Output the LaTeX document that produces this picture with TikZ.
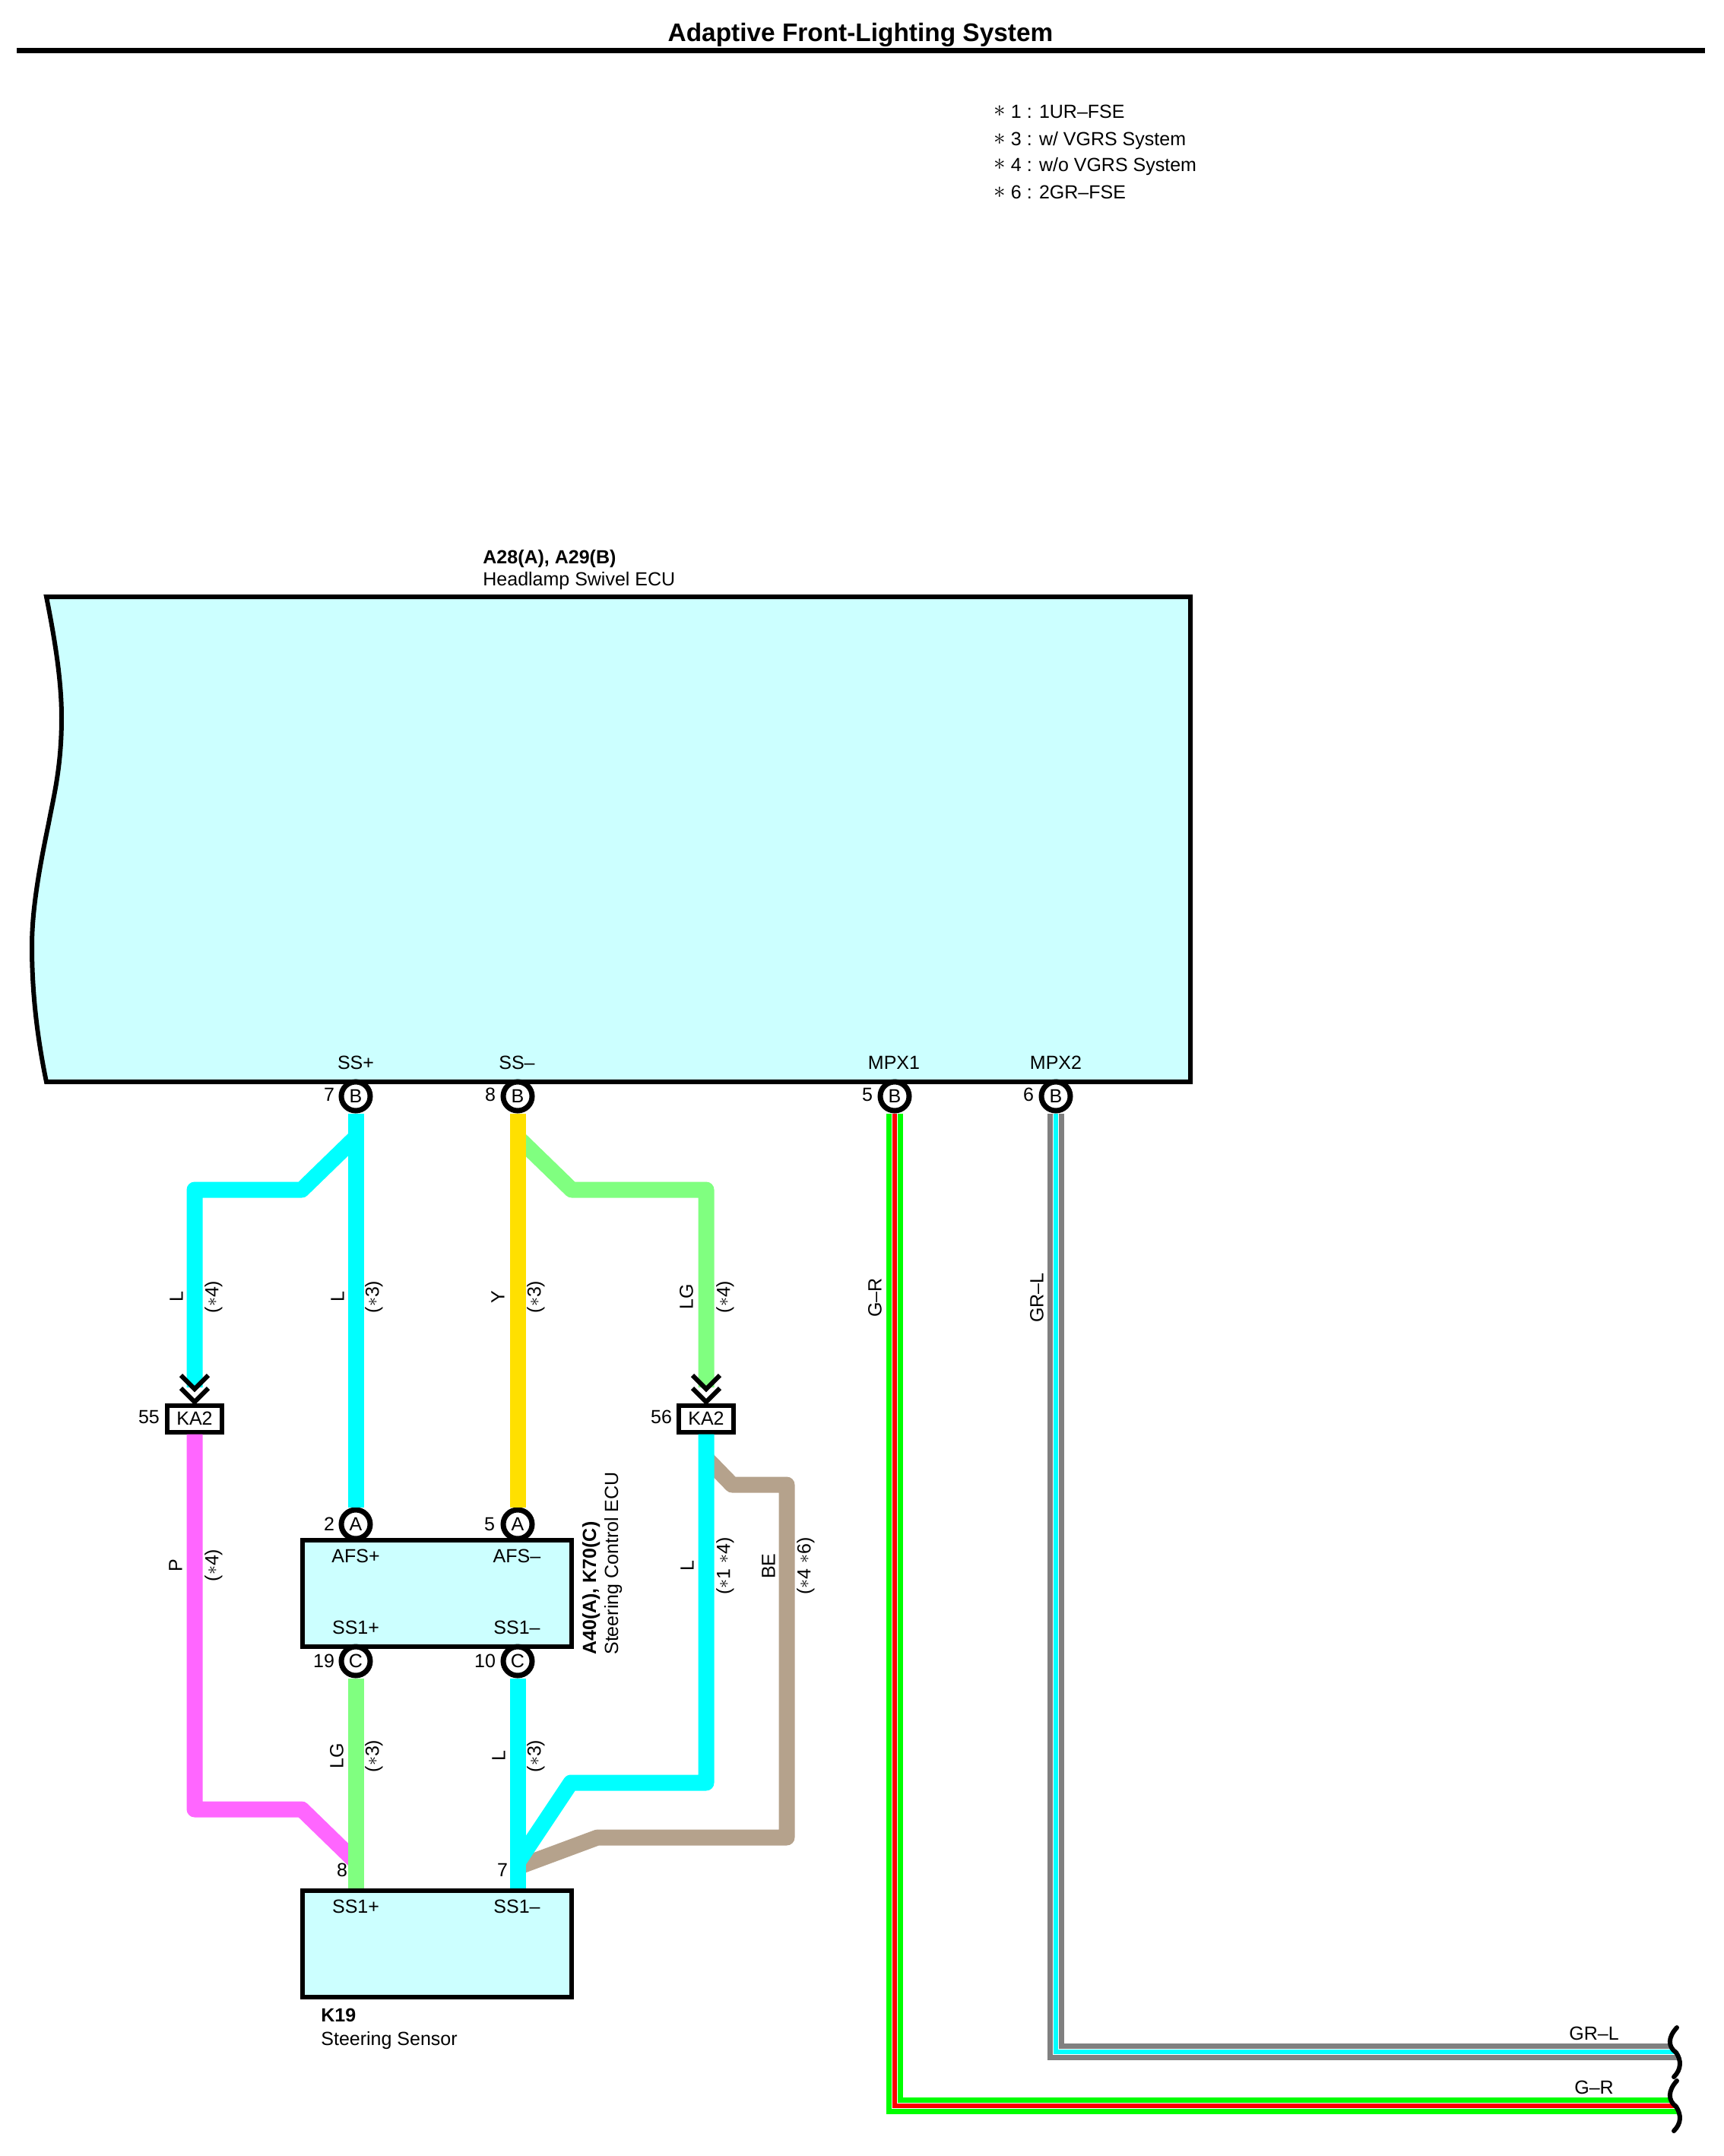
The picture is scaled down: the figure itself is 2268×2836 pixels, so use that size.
\documentclass[tikz,border=0pt]{standalone}
\usepackage{fontspec}
\setmainfont{Liberation Sans}
\newcommand{\lblfont}{\fontsize{12.5}{15}\selectfont}
\newcommand{\ttlfont}{\fontsize{16.7}{20}\selectfont\bfseries}
\newcommand{\wst}{\raisebox{1pt}{$\ast$}}
\newcommand{\lst}{\raisebox{1pt}{\scalebox{1.3}{$\ast$}}}
% two colours, with a thin white gap, for the striped wires
\newcommand{\stripewire}[3]{%
  \draw [line width=11pt,color=#1] #3;
  \draw [line width=4pt,color=white] #3;
  \draw [line width=3pt,color=#2] #3;}
\definecolor{boxfill}{RGB}{204,255,255}
\definecolor{wcyan}{RGB}{0,255,255}
\definecolor{wlime}{RGB}{128,255,128}
\definecolor{wpink}{RGB}{255,102,255}
\definecolor{wyell}{RGB}{255,224,0}
\definecolor{wbrown}{RGB}{181,162,140}
\definecolor{wgreen}{RGB}{0,255,0}
\definecolor{wred}{RGB}{255,0,0}
\definecolor{wgray}{RGB}{128,128,128}
\tikzset{
  every node/.style={font=\lblfont,inner sep=0pt},
  pin/.style={circle,draw,fill=white,line width=3.5pt,minimum size=19pt},
  unit/.style={rectangle,draw,fill=boxfill,line width=3pt,minimum width=177pt,minimum height=70pt},
  joint/.style={rectangle,draw,fill=white,line width=3pt,minimum width=36pt,minimum height=17.5pt},
  wire/.style={line width=10.5pt,line join=round},
  vlabel/.style={rotate=90},
  chevs/.pic={\draw [line width=3pt] (-18,37) -- (0,19) -- (18,37) (-18,20) -- (0,2) -- (18,20);},
}
\begin{document}
\begin{tikzpicture}[x=0.5pt,y=0.5pt,yscale=-1,xscale=1]
\useasboundingbox (0,0) rectangle (2268,2836);

%Title
\draw (1132,55) node (title) [anchor=base,font=\ttlfont] {Adaptive Front-Lighting System};
\draw [line width=3.5pt] (22,66.5) -- (2243,66.5);

%Legend
\draw (1307,156) node (note1) [anchor=base west] {\lst{} 1 : 1UR–FSE};
\draw (1307,192) node (note3) [anchor=base west] {\lst{} 3 : w/ VGRS System};
\draw (1307,226) node (note4) [anchor=base west] {\lst{} 4 : w/o VGRS System};
\draw (1307,262) node (note6) [anchor=base west] {\lst{} 6 : 2GR–FSE};

%Shape: ECU body
\draw [line width=3pt,fill=boxfill] (61,785) .. controls (74,850) and (81,900) .. (81,944) .. controls (81,1010) and (70,1050) .. (64,1083) .. controls (50,1150) and (42,1200) .. (42,1245) .. controls (42,1310) and (50,1370) .. (61,1423) -- (1566,1423) -- (1566,785) -- cycle;
\draw (635,741) node (ecuid) [anchor=base west,font=\lblfont\bfseries] {A28(A), A29(B)};
\draw (635,770) node (ecuname) [anchor=base west] {Headlamp Swivel ECU};

%Boxes
\draw (575,2096) node (steer) [unit] {};
\draw (575,2557) node (sens) [unit] {};
\draw (784,2177) node (steerid) [vlabel,anchor=base west,font=\lblfont\bfseries] {A40(A), K70(C)};
\draw (813,2177) node (steername) [vlabel,anchor=base west] {Steering Control ECU};
\draw (422,2659) node (sensid) [anchor=base west,font=\lblfont\bfseries] {K19};
\draw (422,2690) node (sensname) [anchor=base west] {Steering Sensor};

%Pins
\draw (468,1442) node (pb7) [pin] {B};
\draw (681,1442) node (pb8) [pin] {B};
\draw (1177,1442) node (pb5) [pin] {B};
\draw (1389,1442) node (pb6) [pin] {B};
\draw (468,2005) node (pa2) [pin] {A};
\draw (681,2005) node (pa5) [pin] {A};
\draw (468,2185) node (pc19) [pin] {C};
\draw (681,2185) node (pc10) [pin] {C};

%Joints
\draw (256,1866) node (ka55) [joint] {KA2};
\draw (929,1866) node (ka56) [joint] {KA2};

%Free ends and bends
\coordinate (in55) at (256,1825);
\coordinate (in56) at (929,1825);
\coordinate (tapl) at (468,1496);
\coordinate (tapy) at (681,1496);
\coordinate (tapp) at (468,2449);
\coordinate (tapc) at (681,2450);
\coordinate (tapb) at (681,2456);
\coordinate (tapk) at (929,1918);
\coordinate (endgl) at (2214,2699);
\coordinate (endgr) at (2214,2770);

%Wires above the joints
\draw [wire,color=wcyan] (tapl) -- (397,1565) -- (256,1565) -- (in55);
\draw [wire,color=wlime] (tapy) -- (752,1565) -- (929,1565) -- (in56);
\draw [wire,color=wcyan] (pb7.south) -- (pa2.north);
\draw [wire,color=wyell] (pb8.south) -- (pa5.north);
\draw (256,1846) pic {chevs};
\draw (929,1846) pic {chevs};

%Wires below the joints
\draw [wire,color=wpink] (ka55.south) -- (256,2380) -- (397,2380) -- (tapp);
\draw [wire,color=wbrown] (tapk) -- (963,1953) -- (1035,1953) -- (1035,2417) -- (786,2417) -- (tapb);
\draw [wire,color=wcyan] (ka56.south) -- (929,2345) -- (751,2345) -- (tapc);
\draw [wire,color=wlime] (pc19.south) -- (pc19.south |- sens.north);
\draw [wire,color=wcyan] (pc10.south) -- (pc10.south |- sens.north);

%Striped wires, cut along the break marks
\begin{scope}
\clip (1000,1400) -- (2206,1400) -- (2206,2667) .. controls (2194,2680) and (2194,2692) .. (2205,2700) .. controls (2212,2710) and (2212,2722) .. (2202,2732) -- (2206,2737) .. controls (2194,2750) and (2194,2763) .. (2205,2771) .. controls (2212,2782) and (2212,2793) .. (2202,2803) -- (1000,2803) -- cycle;
\stripewire{wgreen}{wred}{(pb5.south) -- (1177,2770) -- (endgr)}
\stripewire{wgray}{wcyan}{(pb6.south) -- (1389,2699) -- (endgl)}
\end{scope}

%Curve Lines
\draw [line width=3pt,line cap=round] (2206,2667) .. controls (2194,2680) and (2194,2692) .. (2205,2700) .. controls (2212,2710) and (2212,2722) .. (2202,2732);
\draw [line width=3pt,line cap=round] (2206,2737) .. controls (2194,2750) and (2194,2763) .. (2205,2771) .. controls (2212,2782) and (2212,2793) .. (2202,2803);

% Text Node
\draw (468,1398) node (tss1) {SS+};
\draw (680,1398) node (tss2) {SS–};
\draw (1176,1398) node (tmpx1) {MPX1};
\draw (1389,1398) node (tmpx2) {MPX2};
\draw (468,2047) node (tafs1) {AFS+};
\draw (680,2047) node (tafs2) {AFS–};
\draw (468,2141) node (tss3) {SS1+};
\draw (680,2141) node (tss4) {SS1–};
\draw (468,2508) node (tss5) {SS1+};
\draw (680,2508) node (tss6) {SS1–};

% Pin numbers
\draw (433,1440) node (n7) {7};
\draw (645,1440) node (n8) {8};
\draw (1141,1440) node (n5) {5};
\draw (1353,1440) node (n6) {6};
\draw (196,1864) node (n55) {55};
\draw (870,1864) node (n56) {56};
\draw (433,2005) node (n2) {2};
\draw (644,2005) node (n5b) {5};
\draw (426,2185) node (n19) {19};
\draw (638,2185) node (n10) {10};
\draw (450,2460) node (n8b) {8};
\draw (661,2460) node (n7b) {7};

% Wire colours
\draw (232,1706) node (c1) [vlabel] {L};
\draw (281,1706) node (c2) [vlabel] {(\wst 4)};
\draw (444,1706) node (c3) [vlabel] {L};
\draw (492,1706) node (c4) [vlabel] {(\wst 3)};
\draw (655,1706) node (c5) [vlabel] {Y};
\draw (705,1706) node (c6) [vlabel] {(\wst 3)};
\draw (903,1706) node (c7) [vlabel] {LG};
\draw (954,1706) node (c8) [vlabel] {(\wst 4)};
\draw (231,2059) node (c9) [vlabel] {P};
\draw (281,2059) node (c10) [vlabel] {(\wst 4)};
\draw (904,2060) node (c11) [vlabel] {L};
\draw (954,2060) node (c12) [vlabel] {(\wst 1 \wst 4)};
\draw (1011,2060) node (c13) [vlabel] {BE};
\draw (1060,2060) node (c14) [vlabel] {(\wst 4 \wst 6)};
\draw (443,2310) node (c15) [vlabel] {LG};
\draw (492,2310) node (c16) [vlabel] {(\wst 3)};
\draw (656,2310) node (c17) [vlabel] {L};
\draw (705,2310) node (c18) [vlabel] {(\wst 3)};
\draw (1151,1707) node (c19) [vlabel] {G–R};
\draw (1364,1707) node (c20) [vlabel] {GR–L};
\draw (2097,2683) node (c21) [anchor=base] {GR–L};
\draw (2097,2754) node (c22) [anchor=base] {G–R};

\end{tikzpicture}
\end{document}
